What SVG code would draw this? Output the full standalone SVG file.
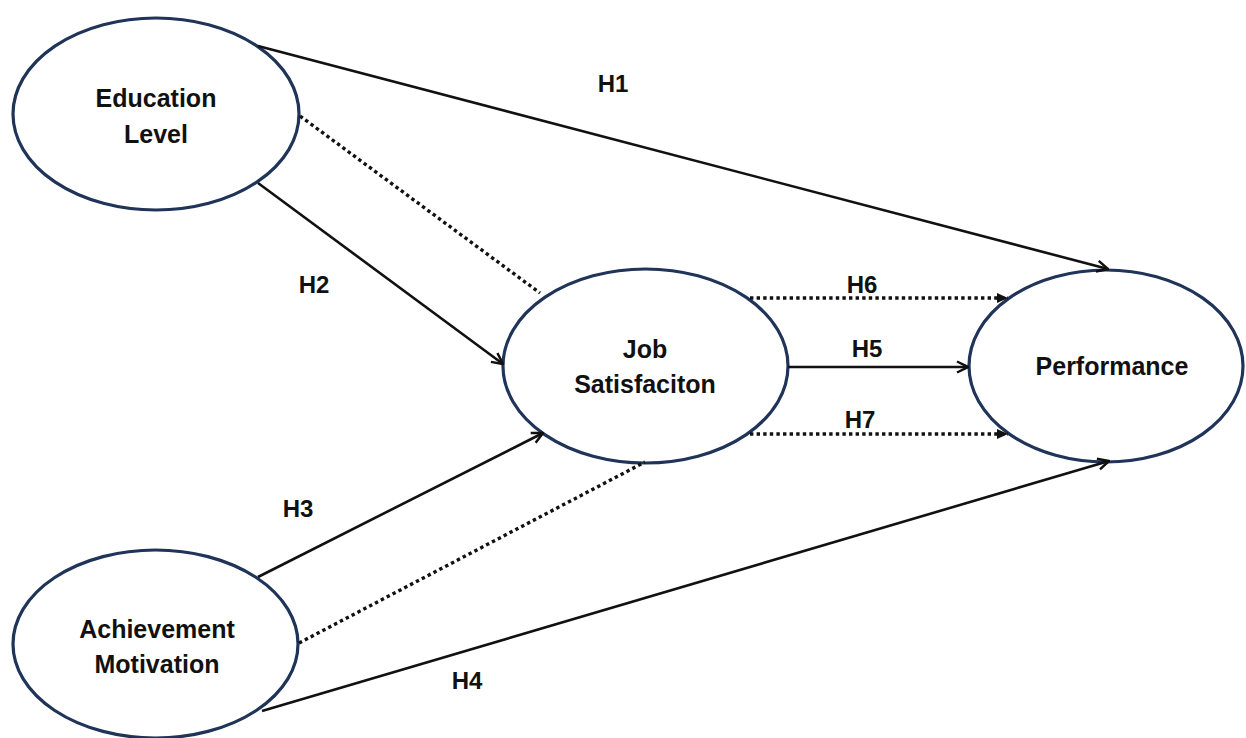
<svg xmlns="http://www.w3.org/2000/svg" width="1246" height="738" viewBox="0 0 1246 738">
<style>
.node ellipse{fill:#ffffff;stroke:#1f3458;stroke-width:3.2}
.lbl{font-family:"Liberation Sans",Arial,sans-serif;font-weight:bold;font-size:24px;fill:#111111;text-anchor:middle}
.node .lbl{font-size:25px}
.solid{stroke:#111111;stroke-width:2.6;fill:none}
.dot{stroke:#111111;stroke-width:3.4;stroke-dasharray:3.4 3.2;fill:none}
</style>
<defs>
<marker id="open" markerUnits="userSpaceOnUse" viewBox="0 0 14 14" refX="13" refY="7" markerWidth="14" markerHeight="14" orient="auto">
<path d="M2,1.5 L13,7 L2,12.5" fill="none" stroke="#111111" stroke-width="2.5"/>
</marker>
<marker id="fill" markerUnits="userSpaceOnUse" viewBox="0 0 12 12" refX="11" refY="6" markerWidth="12" markerHeight="12" orient="auto">
<path d="M0,1 L11,6 L0,11 z" fill="#111111"/>
</marker>
</defs>
<rect width="1246" height="738" fill="#ffffff"/>
<g id="education" class="node">
<ellipse cx="156" cy="114" rx="143" ry="96"/>
<text class="lbl" x="156" y="107">Education</text>
<text class="lbl" x="156" y="143">Level</text>
</g>
<g id="job" class="node">
<ellipse cx="645.5" cy="366" rx="142.5" ry="97"/>
<text class="lbl" x="645" y="358">Job</text>
<text class="lbl" x="645" y="393">Satisfaciton</text>
</g>
<g id="performance" class="node">
<ellipse cx="1106" cy="366" rx="137" ry="96"/>
<text class="lbl" x="1112" y="375">Performance</text>
</g>
<g id="achievement" class="node">
<ellipse cx="155.5" cy="644" rx="142.5" ry="94"/>
<text class="lbl" x="157" y="638">Achievement</text>
<text class="lbl" x="157" y="673">Motivation</text>
</g>
<g id="connectors">
<line class="solid" x1="258" y1="46" x2="1108" y2="269" marker-end="url(#open)"/>
<line class="dot" x1="300" y1="116" x2="540" y2="293"/>
<line class="solid" x1="258" y1="183" x2="503" y2="364" marker-end="url(#open)"/>
<line class="solid" x1="258" y1="577" x2="543" y2="433" marker-end="url(#open)"/>
<line class="dot" x1="299" y1="643" x2="645" y2="462"/>
<line class="solid" x1="262" y1="711" x2="1109" y2="461" marker-end="url(#open)"/>
<line class="dot" x1="750" y1="298" x2="1008" y2="298" marker-end="url(#fill)"/>
<line class="solid" x1="788" y1="367" x2="968" y2="367" marker-end="url(#open)"/>
<line class="dot" x1="750" y1="434" x2="1008" y2="434" marker-end="url(#fill)"/>
</g>
<g id="labels">
<text class="lbl" x="613" y="92">H1</text>
<text class="lbl" x="314" y="293">H2</text>
<text class="lbl" x="298" y="517">H3</text>
<text class="lbl" x="467" y="689">H4</text>
<text class="lbl" x="867" y="357">H5</text>
<text class="lbl" x="862" y="293">H6</text>
<text class="lbl" x="860" y="428">H7</text>
</g>
</svg>
